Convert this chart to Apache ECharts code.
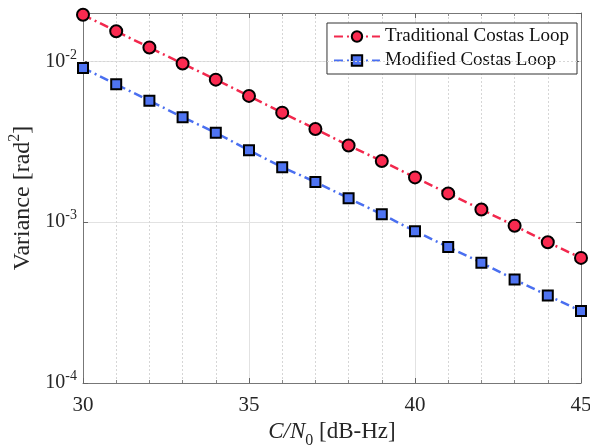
<!DOCTYPE html>
<html>
<head>
<meta charset="utf-8">
<script src="https://cdn.jsdelivr.net/npm/echarts@6/dist/echarts.min.js"></script>
<style>
  html, body { margin: 0; padding: 0; background: #fff; }
  #chart { width: 590px; height: 447px; }
</style>
</head>
<body>
<div id="chart"></div>
<script>
// C/N0 values in dB-Hz
const cn0 = [30, 31, 32, 33, 34, 35, 36, 37, 38, 39, 40, 41, 42, 43, 44, 45];
// variance (rad^2)
const traditional = [0.0195, 0.0154, 0.0122, 0.0097, 0.0077, 0.0061, 0.0048, 0.0038, 0.0030, 0.0024,
  0.00190, 0.00151, 0.00120, 0.00095, 0.00075, 0.00060];
const modified = [0.0091, 0.0072, 0.0057, 0.0045, 0.0036, 0.0028, 0.0022, 0.00178, 0.00141, 0.00112,
  0.00088, 0.00070, 0.00056, 0.00044, 0.00035, 0.00028];
// minor grid positions on the log axis
const minorY = [2e-4, 3e-4, 4e-4, 5e-4, 6e-4, 7e-4, 8e-4, 9e-4,
  2e-3, 3e-3, 4e-3, 5e-3, 6e-3, 7e-3, 8e-3, 9e-3];

const serif = 'Liberation Serif';
let chart = echarts.init(document.getElementById('chart'));

const pow = v => {
  let e = Math.round(Math.log10(v));
  return '{b|10}{s|' + e + '}';
};
const powRich = {
  b: { fontFamily: serif, fontSize: 20, color: '#262626' },
  s: { fontFamily: serif, fontSize: 14, color: '#262626', verticalAlign: 'bottom', padding: [0, 0, 13, 0] }
};

const xBase = {
  type: 'value', min: 30, max: 45, interval: 5,
  axisLine: { show: true, lineStyle: { color: '#777', width: 1 } },
  axisTick: { inside: true, length: 5, lineStyle: { color: '#666' } },
  minorTick: { show: true, splitNumber: 5, length: 3, lineStyle: { color: '#888' } },
  splitLine: { show: false },
  minorSplitLine: { show: false }
};
const yBase = {
  type: 'log', logBase: 10, min: 1e-4, max: 0.02,
  axisLine: { show: true, lineStyle: { color: '#777', width: 1 } },
  axisTick: { inside: true, length: 5, lineStyle: { color: '#666' } },
  splitLine: { show: false }
};

chart.setOption({
  animation: false,
  grid: { left: 83, right: 9, top: 13, bottom: 64, containLabel: false, outerBoundsMode: 'none' },
  legend: {
    right: 13, top: 23,
    orient: 'vertical',
    backgroundColor: '#fff',
    borderColor: '#333', borderWidth: 1,
    padding: [4, 8, 4, 6],
    itemGap: 5,
    itemWidth: 46, itemHeight: 13,
    textStyle: { fontFamily: serif, fontSize: 19, color: '#111' },
    data: ['Traditional Costas Loop', 'Modified Costas Loop']
  },
  xAxis: [
    Object.assign({}, xBase, {
      position: 'bottom',
      name: '{i|C/N}{sub|0} [dB-Hz]',
      nameLocation: 'middle', nameGap: 26,
      nameTextStyle: {
        fontFamily: serif, fontSize: 23, color: '#262626',
        rich: {
          i: { fontFamily: serif, fontSize: 23, fontStyle: 'italic', color: '#262626' },
          sub: { fontFamily: serif, fontSize: 16, color: '#262626', verticalAlign: 'top', padding: [16, 0, 0, 0] }
        }
      },
      axisLabel: { fontFamily: serif, fontSize: 21, color: '#262626', margin: 12 },
      splitLine: { show: true, lineStyle: { color: '#e2e2e2', width: 1 } },
      minorSplitLine: { show: true, lineStyle: { color: '#d6d6d6', type: [2, 2], width: 1 } }
    }),
    Object.assign({}, xBase, { position: 'top', axisLabel: { show: false } })
  ],
  yAxis: [
    Object.assign({}, yBase, {
      position: 'left',
      name: 'Variance [rad{sup|2}]',
      nameLocation: 'middle', nameGap: 42,
      nameTextStyle: {
        fontFamily: serif, fontSize: 24, color: '#262626',
        rich: {
          sup: { fontFamily: serif, fontSize: 16, color: '#262626', verticalAlign: 'bottom', padding: [0, 0, 15, 0] }
        }
      },
      axisLabel: { formatter: pow, rich: powRich, margin: 6, showMaxLabel: false },
      splitLine: { show: true, lineStyle: { color: '#e2e2e2', width: 1 } }
    }),
    Object.assign({}, yBase, { position: 'right', axisLabel: { show: false } })
  ],
  series: [
    {
      name: 'Traditional Costas Loop',
      type: 'line',
      data: cn0.map((c, i) => [c, traditional[i]]),
      symbol: 'circle', symbolSize: 12,
      lineStyle: { color: '#f2284d', width: 2.5, type: [9, 4, 2, 4] },
      itemStyle: { color: '#fa2a50', borderColor: '#000', borderWidth: 2 },
      z: 5,
      markLine: {
        silent: true, symbol: 'none', label: { show: false },
        lineStyle: { color: '#d6d6d6', type: [2, 2], width: 1 },
        data: minorY.map(v => ({ yAxis: v }))
      }
    },
    {
      name: 'Modified Costas Loop',
      type: 'line',
      data: cn0.map((c, i) => [c, modified[i]]),
      symbol: 'rect', symbolSize: 10,
      lineStyle: { color: '#4a6ff0', width: 2.5, type: [9, 4, 2, 4] },
      itemStyle: { color: '#4f74f2', borderColor: '#000', borderWidth: 2 },
      z: 4
    }
  ]
});
</script>
</body>
</html>
